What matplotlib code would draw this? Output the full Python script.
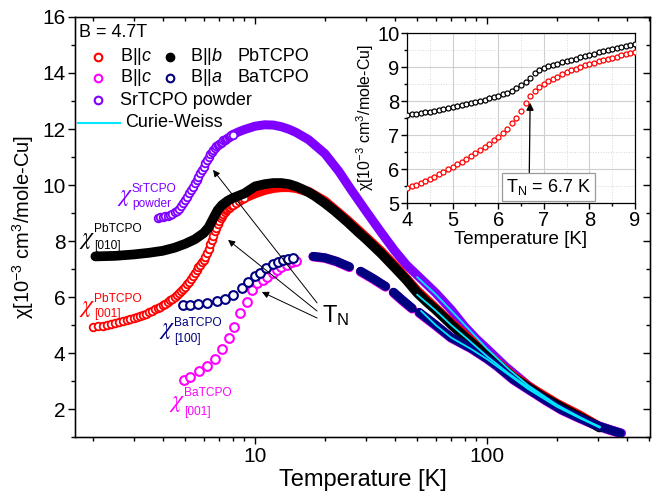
import numpy as np
import matplotlib
matplotlib.use("Agg")
import matplotlib.pyplot as plt
from matplotlib.ticker import FixedLocator, LogLocator, NullFormatter, MultipleLocator

plt.rcParams['font.family'] = ['Liberation Sans', 'DejaVu Sans']
plt.rcParams['mathtext.fontset'] = 'custom'
plt.rcParams['mathtext.rm'] = 'Liberation Sans'
plt.rcParams['mathtext.it'] = 'Liberation Sans:italic'
plt.rcParams['mathtext.bf'] = 'Liberation Sans:bold'

nan = np.nan

# ---------------- data: chi in 10^-3 cm^3/mole-Cu, T in K ----------------
# PbTCPO, B || c
pb_c_T = [2.0, 2.1, 2.2, 2.3, 2.4, 2.5, 2.6, 2.7, 2.8, 2.9, 3.0, 3.1, 3.2, 3.3, 3.4,
          3.5, 3.6, 3.7, 3.8, 3.9, 4.0, 4.1, 4.2, 4.3, 4.4, 4.5, 4.6, 4.7, 4.8, 4.9,
          5.0, 5.1, 5.2, 5.3, 5.4, 5.5, 5.6, 5.7, 5.8, 5.9, 6.0, 6.1, 6.2, 6.3, 6.4,
          6.5, 6.6, 6.7, 6.8, 6.9, 7.0, 7.1, 7.2, 7.3, 7.4, 7.5, 7.6, 7.7, 7.8, 7.9,
          8.0, 8.25, 8.5, 8.75, 9.0,
          10, 11, 12, 13, 14, 15, 17, 20, 25, 30, 35, 40, 50, 60, 70, 80, 100,
          130, 150, 200, 250, 300]
pb_c_chi = [4.94, 4.96, 4.98, 5.00, 5.03, 5.06, 5.10, 5.15, 5.19, 5.22, 5.26, 5.29, 5.33, 5.37, 5.41,
            5.46, 5.51, 5.56, 5.60, 5.65, 5.70, 5.76, 5.82, 5.88, 5.94, 6.01, 6.08, 6.15, 6.22, 6.29,
            6.37, 6.46, 6.55, 6.65, 6.75, 6.86, 6.96, 7.06, 7.15, 7.24, 7.33, 7.43, 7.57, 7.73, 7.89,
            8.04, 8.19, 8.34, 8.48, 8.61, 8.72, 8.82, 8.90, 8.97, 9.04, 9.09, 9.14, 9.19, 9.23, 9.27,
            9.30, 9.37, 9.43, 9.49, 9.54,
            9.70, 9.82, 9.89, 9.92, 9.92, 9.89, 9.76, 9.42, 8.74, 8.14, 7.62, 7.12, 6.22, 5.60, 5.08, 4.65, 3.96,
            3.17, 2.82, 2.19, 1.78, 1.40]

# PbTCPO, B || b
pb_b_T = [2.05, 2.5, 3.0, 3.5, 4.0, 4.5, 5.0, 5.5, 6.0, 6.3, 6.6, 6.9, 7.2, 7.6, 8.0, 9.0,
          10, 11, 12, 13, 14, 15, 16, 17, 18, 20, 22, 25, 28, 30, 35, 40, 45, 50, 55, 60,
          70, 80, 90, 100, 115, 130, 150, 175, 200, 230, 260, 290, 305]
pb_b_chi = [7.45, 7.47, 7.52, 7.58, 7.65, 7.76, 7.90, 8.06, 8.28, 8.48, 8.80, 9.10, 9.28, 9.43, 9.53, 9.70,
            9.95, 10.03, 10.07, 10.07, 10.03, 9.95, 9.85, 9.74, 9.62, 9.35, 9.08, 8.68, 8.30, 8.08, 7.55, 7.05, 6.60, 6.15, 5.82, 5.55,
            5.02, 4.58, 4.22, 3.90, 3.50, 3.12, 2.78, 2.42, 2.15, 1.88, 1.65, 1.45, 1.34]

# BaTCPO, B || c
ba_c_T = [4.94, 5.24, 5.75, 6.20, 6.69, 7.20, 7.70, 8.10, 8.62, 9.21, 9.70, 10.2, 10.8, 11.3,
          11.9, 12.4, 13.0, 13.7, 14.4, 15.0, nan,
          17.8, 20.0, 22.5, 25.5, nan, 28.5, 32.0, 36.5, nan, 39.5, 43.0, 47.5, nan,
          51, 60, 70, 85, 100, 110, 130, 150, 180, 210, 250, 300, 340, 372]
ba_c_chi = [3.05, 3.16, 3.35, 3.52, 3.80, 4.15, 4.52, 4.92, 5.42, 5.83, 6.25, 6.49, 6.62, 6.72,
            6.85, 6.96, 7.06, 7.14, 7.24, 7.30, nan,
            7.44, 7.39, 7.26, 7.06, nan, 6.90, 6.66, 6.36, nan, 6.15, 5.88, 5.58, nan,
            5.43, 4.98, 4.54, 4.17, 3.79, 3.54, 3.04, 2.71, 2.29, 1.96, 1.67, 1.39, 1.24, 1.14]

# BaTCPO, B || a
ba_a_T = [4.90, 5.25, 5.70, 6.20, 6.84, 7.42, 8.06, 8.76, 9.36, 10.0, 10.5, 11.2, 12.0, 12.6,
          13.2, 13.9, 14.6, nan,
          17.8, 20.0, 22.5, 25.5, nan, 28.5, 32.0, 36.5, nan, 39.5, 43.0, 47.5, nan,
          51, 60, 70, 85, 100, 110, 130, 150, 180, 210, 250, 300, 340, 375]
ba_a_chi = [5.71, 5.72, 5.75, 5.79, 5.84, 5.93, 6.07, 6.31, 6.55, 6.75, 6.87, 7.02, 7.17, 7.26,
            7.32, 7.36, 7.38, nan,
            7.45, 7.40, 7.27, 7.08, nan, 6.92, 6.68, 6.38, nan, 6.17, 5.90, 5.60, nan,
            5.45, 5.00, 4.55, 4.18, 3.80, 3.55, 3.05, 2.72, 2.30, 1.97, 1.68, 1.40, 1.25, 1.14]

# SrTCPO powder
sr_T = [3.8, 3.9, 4.0, 4.1, 4.2, 4.3, 4.4, 4.5, 4.6, 4.7, 4.8, 4.9, 5.0, 5.1, 5.2,
        5.3, 5.4, 5.5, 5.6, 5.7, 5.8, 5.9, 6.0, 6.1, 6.2, 6.3, 6.4, 6.5, 6.6, 6.7,
        6.8, 6.9, 7.0, 7.1, 7.2, 7.3, 7.4, 7.5, 7.6, 7.7, 7.8, 7.9, 8.0,
        8.5, 9, 10, 11, 12, 13, 14, 15, 17, 20, 23, 26, 30, 35, 40, 45, 50, 60,
        70, 80, 90, 100, 120, 150, 180, 220, 260, 300, 340, 380]
sr_chi = [8.82, 8.84, 8.86, 8.88, 8.91, 8.94, 8.98, 9.02, 9.08, 9.15, 9.24, 9.35, 9.46, 9.58, 9.70,
          9.82, 9.94, 10.06, 10.18, 10.30, 10.42, 10.54, 10.66, 10.78, 10.90, 11.01, 11.11, 11.19, 11.26, 11.32,
          11.38, 11.43, 11.47, 11.51, 11.55, 11.59, 11.62, 11.65, 11.68, 11.71, 11.74, 11.77, 11.80,
          11.90, 11.98, 12.10, 12.15, 12.14, 12.08, 11.99, 11.88, 11.62, 11.12, 10.48, 9.82, 9.08, 8.30, 7.65, 7.14, 6.78, 6.15,
          5.55, 4.95, 4.50, 4.15, 3.52, 2.85, 2.38, 1.95, 1.63, 1.41, 1.26, 1.14]

# Curie-Weiss fits
cw_sr_T = [50, 60, 70, 85, 100, 125, 150, 200, 250, 306]
cw_sr_chi = [6.71, 6.10, 5.52, 4.78, 4.15, 3.40, 2.85, 2.15, 1.70, 1.37]
cw_pb_T = [50, 60, 70, 85, 100, 125, 150, 200, 250, 306]
cw_pb_chi = [6.08, 5.52, 5.00, 4.40, 3.88, 3.25, 2.78, 2.14, 1.72, 1.34]
cw_ba_T = [52, 60, 70, 85, 100, 125, 150, 200, 250, 304]
cw_ba_chi = [5.50, 5.00, 4.55, 4.15, 3.78, 3.20, 2.72, 2.08, 1.68, 1.35]

# inset: PbTCPO near T_N
in_T = [4.0, 4.1, 4.2, 4.3, 4.4, 4.5, 4.6, 4.7, 4.8, 4.9, 5.0, 5.1, 5.2, 5.3, 5.4, 5.5, 5.6,
        5.7, 5.8, 5.9, 6.0, 6.1, 6.2, 6.3, 6.4, 6.5, 6.6, 6.7, 6.8, 6.9, 7.0, 7.1, 7.2, 7.3,
        7.4, 7.5, 7.6, 7.7, 7.8, 7.9, 8.0, 8.1, 8.2, 8.3, 8.4, 8.5, 8.6, 8.7, 8.8, 8.9, 9.0]
in_c_chi = [5.44, 5.49, 5.54, 5.60, 5.66, 5.72, 5.78, 5.85, 5.92, 5.99, 6.07, 6.14, 6.22, 6.30, 6.38, 6.46, 6.55,
            6.64, 6.74, 6.84, 6.95, 7.06, 7.19, 7.34, 7.51, 7.70, 7.95, 8.16, 8.30, 8.41, 8.50, 8.58, 8.65, 8.72,
            8.79, 8.85, 8.90, 8.95, 9.00, 9.05, 9.09, 9.13, 9.17, 9.21, 9.25, 9.28, 9.31, 9.35, 9.38, 9.41, 9.44]
in_b_chi = [7.60, 7.62, 7.63, 7.65, 7.67, 7.69, 7.71, 7.74, 7.76, 7.79, 7.82, 7.85, 7.88, 7.91, 7.94, 7.97, 8.01,
            8.04, 8.08, 8.11, 8.15, 8.20, 8.25, 8.31, 8.38, 8.46, 8.56, 8.68, 8.82, 8.92, 8.98, 9.02, 9.06, 9.10,
            9.14, 9.17, 9.21, 9.25, 9.29, 9.32, 9.36, 9.39, 9.43, 9.46, 9.50, 9.53, 9.56, 9.59, 9.62, 9.65, 9.68]
T_N = 6.7

# curve labels: (compound, direction)
curve_labels = [('SrTCPO', 'powder'), ('PbTCPO', '[010]'), ('PbTCPO', '[001]'),
                ('BaTCPO', '[100]'), ('BaTCPO', '[001]')]

# ---------------- styling ----------------
RED = '#ff0000'
MAG = '#ff00ff'
NAVY = '#000080'
PURP = '#8000ff'
CYAN = '#00e8ff'


def split(T, chi, t_cut):
    T = np.asarray(T, float)
    chi = np.asarray(chi, float)
    lo = np.where(T <= t_cut, chi, nan)
    hi = np.where(T >= t_cut, chi, nan)
    return T, lo, hi


fig = plt.figure(figsize=(6.57, 4.97), dpi=100)
ax = fig.add_axes([0.1142, 0.1207, 0.8752, 0.8451])
ax.set_xscale('log')
XL = (1.675, 504)
YL = (1, 16)

# SrTCPO powder
T, lo, hi = split(sr_T, sr_chi, 8.0)
ax.plot(T, hi, '-', color=PURP, lw=6.5, solid_capstyle='round', zorder=2)
ax.plot(T, lo, 'o', ls='none', mfc='white', mec=PURP, ms=5.5, mew=1.3, zorder=2)

# PbTCPO B||c under B||b
T, lo, hi = split(pb_c_T, pb_c_chi, 9.0)
ax.plot(T, hi, '-', color=RED, lw=7, solid_capstyle='round', zorder=3)
ax.plot(T, lo, 'o', ls='none', mfc='white', mec=RED, ms=5.5, mew=1.3, zorder=3)
ax.plot(pb_b_T, pb_b_chi, '-', color='black', lw=7, solid_capstyle='round', zorder=4)

# BaTCPO
T, lo, hi = split(ba_c_T, ba_c_chi, 15.5)
ax.plot(T, hi, '-', color=MAG, lw=6.9, solid_capstyle='round', zorder=3)
ax.plot(T, lo, 'o', ls='none', mfc='white', mec=MAG, ms=6.3, mew=1.5, zorder=3)
T, lo, hi = split(ba_a_T, ba_a_chi, 15.5)
ax.plot(T, hi, '-', color=NAVY, lw=6.5, solid_capstyle='round', zorder=4)
ax.plot(T, lo, 'o', ls='none', mfc='white', mec=NAVY, ms=6.3, mew=1.5, zorder=4)

# Curie-Weiss fits
for t, c in ((cw_sr_T, cw_sr_chi), (cw_pb_T, cw_pb_chi), (cw_ba_T, cw_ba_chi)):
    ax.plot(t, c, '-', color=CYAN, lw=1.3, zorder=6)

ax.set_xlim(*XL)
ax.set_ylim(*YL)
ax.xaxis.set_major_locator(FixedLocator([10, 100]))
ax.xaxis.set_minor_locator(LogLocator(base=10, subs=np.arange(2, 10), numticks=20))
ax.xaxis.set_minor_formatter(NullFormatter())
ax.set_xticklabels(['10', '100'])
ax.yaxis.set_major_locator(MultipleLocator(2))
ax.yaxis.set_minor_locator(MultipleLocator(1))
ax.set_yticks([2, 4, 6, 8, 10, 12, 14, 16])
ax.tick_params(which='major', direction='out', length=5, width=1, labelsize=15, pad=2)
ax.tick_params(which='minor', direction='out', length=3.2, width=1)
for s in ax.spines.values():
    s.set_linewidth(1)
ax.set_xlabel('Temperature [K]', fontsize=17, labelpad=2)
ax.set_ylabel('χ[10$^{-3}$ cm$^{3}$/mole-Cu]', fontsize=14.5, labelpad=4)

# mirrored ticks pointing inward on top and right
axt = ax.twiny()
axt.set_xscale('log')
axt.set_xlim(*XL)
axt.xaxis.set_major_locator(FixedLocator([10, 100]))
axt.xaxis.set_minor_locator(LogLocator(base=10, subs=np.arange(2, 10), numticks=20))
axt.tick_params(axis='x', which='both', direction='in', labeltop=False, width=1)
axt.tick_params(axis='x', which='major', length=5)
axt.tick_params(axis='x', which='minor', length=3.2)
axr = ax.twinx()
axr.set_ylim(*YL)
axr.yaxis.set_major_locator(MultipleLocator(2))
axr.yaxis.set_minor_locator(MultipleLocator(1))
axr.tick_params(axis='y', which='both', direction='in', labelright=False, width=1)
axr.tick_params(axis='y', which='major', length=5)
axr.tick_params(axis='y', which='minor', length=3.2)

# legend block
tr = ax.transAxes
ax.text(0.007, 0.964, 'B = 4.7T', transform=tr, fontsize=13, va='center', ha='left')
rows = [0.905, 0.855, 0.802, 0.748]
ax.plot([0.040], [rows[0]], 'o', mfc='white', mec=RED, ms=5.5, mew=1.5, transform=tr, clip_on=False)
ax.text(0.078, rows[0], 'B||$c$', transform=tr, fontsize=13, va='center')
ax.plot([0.165], [rows[0]], 'o', color='black', ms=6, transform=tr, clip_on=False)
ax.text(0.200, rows[0], 'B||$b$', transform=tr, fontsize=13, va='center')
ax.text(0.283, rows[0], 'PbTCPO', transform=tr, fontsize=13, va='center')
ax.plot([0.040], [rows[1]], 'o', mfc='white', mec=MAG, ms=5.5, mew=1.5, transform=tr, clip_on=False)
ax.text(0.078, rows[1], 'B||$c$', transform=tr, fontsize=13, va='center')
ax.plot([0.165], [rows[1]], 'o', mfc='white', mec=NAVY, ms=5.5, mew=1.5, transform=tr, clip_on=False)
ax.text(0.200, rows[1], 'B||$a$', transform=tr, fontsize=13, va='center')
ax.text(0.283, rows[1], 'BaTCPO', transform=tr, fontsize=13, va='center')
ax.plot([0.040], [rows[2]], 'o', mfc='white', mec=PURP, ms=5.5, mew=1.5, transform=tr, clip_on=False)
ax.text(0.078, rows[2], 'SrTCPO powder', transform=tr, fontsize=13, va='center')
ax.plot([0.005, 0.078], [rows[3], rows[3]], '-', color=CYAN, lw=1.5, transform=tr, clip_on=False)
ax.text(0.087, rows[3], 'Curie-Weiss', transform=tr, fontsize=13, va='center')

# curve labels: chi symbol with stacked super/subscript
label_colors = [PURP, 'black', RED, NAVY, MAG]
# (chi x, chi baseline, super baseline, sub baseline) in axes fraction
label_pos = [(0.0730, 0.562, 0.583, 0.548),
             (0.0070, 0.459, 0.488, 0.448),
             (0.0070, 0.297, 0.321, 0.286),
             (0.1460, 0.245, 0.264, 0.226),
             (0.1635, 0.071, 0.098, 0.052)]
script_gap = 0.026
for (sup, sub), col, (xc, yc, ysup, ysub) in zip(curve_labels, label_colors, label_pos):
    ax.text(xc, yc, r'$\chi$', transform=tr, color=col, fontsize=17, math_fontfamily='stix',
            ha='left', va='baseline', zorder=7)
    xs = xc + script_gap
    ax.text(xs, ysup, sup, transform=tr, color=col, fontsize=8.6, ha='left', va='baseline', zorder=7)
    ax.text(xs, ysub, sub, transform=tr, color=col, fontsize=8.6, ha='left', va='baseline', zorder=7)

# T_N arrows
arrow_kw = dict(arrowstyle='-|>', color='black', lw=0.7, mutation_scale=10, shrinkA=0, shrinkB=0)
for tip, tail in (((6.59, 10.54), (18.5, 5.79)),
                  ((7.65, 8.04), (18.5, 5.50)),
                  ((10.7, 6.18), (18.5, 5.25))):
    ax.annotate('', xy=tip, xytext=tail, arrowprops=arrow_kw, zorder=7)
ax.text(19.5, 5.11, r'T$_\mathrm{N}$', fontsize=17, ha='left', va='baseline', zorder=7)

# ---------------- inset ----------------
axi = fig.add_axes([0.6195, 0.5915, 0.347, 0.342])
axi.set_zorder(10)
axi.plot(in_T, in_b_chi, 'o', ls='none', mfc='white', mec='black', ms=3.6, mew=0.9, zorder=3)
axi.plot(in_T, in_c_chi, 'o', ls='none', mfc='white', mec=RED, ms=3.6, mew=0.9, zorder=3)
axi.set_xlim(4, 9)
axi.set_ylim(5, 10)
axi.xaxis.set_major_locator(MultipleLocator(1))
axi.xaxis.set_minor_locator(MultipleLocator(0.5))
axi.yaxis.set_major_locator(MultipleLocator(1))
axi.yaxis.set_minor_locator(MultipleLocator(0.5))
axi.grid(which='major', color='#cfcfcf', lw=0.8, ls='-')
axi.grid(which='minor', color='#d8d8d8', lw=0.7, ls=':')
axi.set_axisbelow(True)
axi.tick_params(which='major', direction='out', length=4, width=1, labelsize=14.5, pad=1.5)
axi.tick_params(which='minor', direction='out', length=2.5, width=1)
for s in axi.spines.values():
    s.set_linewidth(0.9)
axi.set_xlabel('Temperature [K]', fontsize=13.5, labelpad=1)
axi.set_ylabel('χ[10$^{-3}$ cm$^{3}$/mole-Cu]', fontsize=11.5, labelpad=1)
axi.annotate(r'T$_\mathrm{N}$ = 6.7 K', xy=(T_N, 7.95), xytext=(7.11, 5.47),
             fontsize=13, ha='center', va='center', zorder=5,
             bbox=dict(boxstyle='square,pad=0.22', fc='white', ec='#9a9a9a', lw=0.9),
             arrowprops=dict(arrowstyle='-|>', color='black', lw=0.9, mutation_scale=11,
                             relpos=(0.27, 1.0), shrinkA=0, shrinkB=0))

fig.savefig('out.png', dpi=100)
